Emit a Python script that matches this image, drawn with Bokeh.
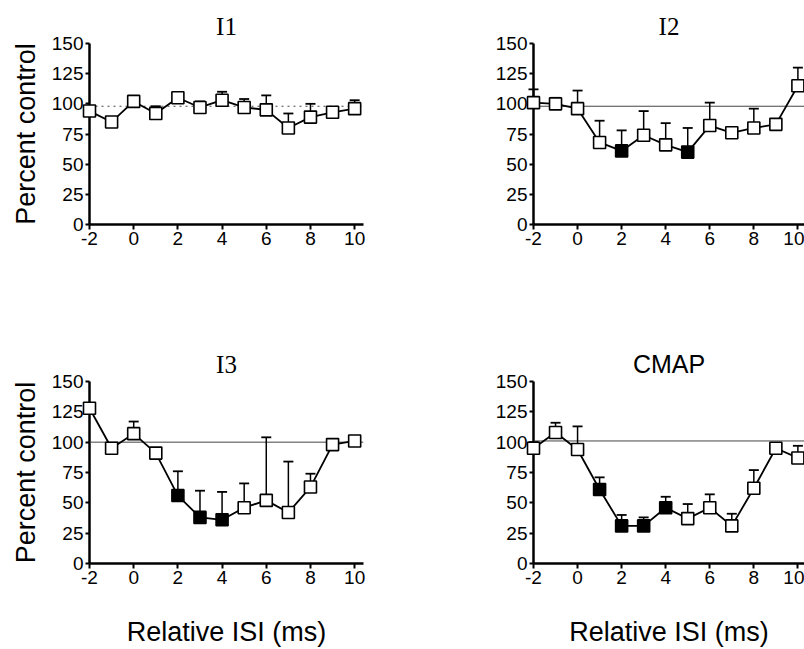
from bokeh.plotting import figure
from bokeh.layouts import column, row
from bokeh.models import Span, FixedTicker
from bokeh.embed import file_html
from bokeh.resources import INLINE

# ---------------- data ----------------
isi = [-2, -1, 0, 1, 2, 3, 4, 5, 6, 7, 8, 9, 10]
x_ticks = [-2, 0, 2, 4, 6, 8, 10]
y_ticks = [0, 25, 50, 75, 100, 125, 150]

i1_mean = [94, 85, 102, 92, 105, 97, 103, 97, 95, 80, 89, 93, 96]
i1_err = [0, 3, 0, 6, 0, 5, 7, 7, 12, 12, 11, 0, 7]
i1_sig = []

i2_mean = [101, 100, 96, 68, 61, 74, 66, 60, 82, 76, 80, 83, 115]
i2_err = [11, 5, 15, 18, 17, 20, 18, 20, 19, 0, 16, 0, 15]
i2_sig = [2, 5]

i3_mean = [128, 95, 107, 91, 56, 38, 36, 46, 52, 42, 63, 98, 101]
i3_err = [0, 0, 10, 0, 20, 22, 23, 20, 52, 42, 11, 4, 4]
i3_sig = [2, 3, 4]

cmap_mean = [95, 108, 94, 61, 31, 31, 46, 37, 46, 31, 62, 95, 87]
cmap_err = [5, 8, 19, 10, 9, 7, 9, 12, 11, 10, 15, 0, 10]
cmap_sig = [1, 2, 3, 4]

titles = ["I1", "I2", "I3", "CMAP"]
ref_levels = [98, 98, 100, 101]

SANS = "Liberation Sans"
SERIF = "Liberation Serif"


def make_panel(title, title_font, mean, err, sig, ref, ref_dash, x_end,
               width, height, mb_left, mb_right, mb_top, mb_bottom,
               ylabel, xlabel):
    p = figure(width=width, height=height, x_range=(-2, x_end), y_range=(0, 150),
               output_backend="svg", toolbar_location=None,
               min_border_left=mb_left, min_border_right=mb_right,
               min_border_top=mb_top, min_border_bottom=mb_bottom,
               background_fill_color="white", border_fill_color="white")
    p.outline_line_color = None
    p.grid.visible = False

    p.title.text = title
    p.title.align = "center"
    p.title.text_font = title_font
    p.title.text_font_size = "25px"
    p.title.text_font_style = "normal"
    p.title.text_color = "black"
    p.title.standoff = 8

    for ax in (p.xaxis[0], p.yaxis[0]):
        ax.axis_line_width = 2.5
        ax.axis_line_color = "black"
        ax.major_tick_line_width = 2
        ax.major_tick_line_color = "black"
        ax.major_tick_in = 0
        ax.minor_tick_line_color = None
        ax.major_label_text_font = SANS
        ax.major_label_text_font_size = "19px"
        ax.major_label_text_color = "black"
        ax.major_label_standoff = 2
        ax.axis_label_text_font = SANS
        ax.axis_label_text_font_size = "27px"
        ax.axis_label_text_font_style = "normal"
        ax.axis_label_text_color = "black"

    p.xaxis.ticker = FixedTicker(ticks=x_ticks)
    p.xaxis.major_label_overrides = {t: str(t) for t in x_ticks}
    p.yaxis.ticker = FixedTicker(ticks=y_ticks)
    p.xaxis.major_tick_out = 5
    p.yaxis.major_tick_out = 4
    p.yaxis.axis_label = ylabel
    p.yaxis.axis_label_standoff = 8
    p.xaxis.axis_label = xlabel
    p.xaxis.axis_label_standoff = 30

    span = Span(location=ref, dimension="width", line_color="#444444",
                line_width=1, line_dash=ref_dash)
    p.add_layout(span)

    # error bars (upper only)
    ex = [x for x, e in zip(isi, err) if e > 0]
    ey0 = [m for m, e in zip(mean, err) if e > 0]
    ey1 = [m + e for m, e in zip(mean, err) if e > 0]
    p.segment(x0=ex, y0=ey0, x1=ex, y1=ey1, line_color="black",
              line_width=1.5, level="overlay")
    p.scatter(ex, ey1, marker="dash", size=10, line_color="black",
              line_width=1.8, level="overlay")

    # connecting line
    p.line(isi, mean, line_color="black", line_width=1.8, level="overlay")

    ox = [x for x in isi if x not in sig]
    oy = [m for x, m in zip(isi, mean) if x not in sig]
    fx = [x for x in isi if x in sig]
    fy = [m for x, m in zip(isi, mean) if x in sig]
    p.scatter(ox, oy, marker="square", size=12, fill_color="white",
              line_color="black", line_width=1.6, level="overlay")
    if fx:
        p.scatter(fx, fy, marker="square", size=12, fill_color="black",
                  line_color="black", line_width=1.6, level="overlay")
    return p


W1, W2 = 448, 356
H1, H2 = 267, 382

p1 = make_panel(titles[0], SERIF, i1_mean, i1_err, i1_sig, ref_levels[0], "dotted", 10.4,
                W1, H1, 89, 85, 43, 43, "Percent control", None)
p2 = make_panel(titles[1], SERIF, i2_mean, i2_err, i2_sig, ref_levels[1], "solid", 10.3,
                W2, H1, 85, 0, 43, 43, None, None)
p3 = make_panel(titles[2], SERIF, i3_mean, i3_err, i3_sig, ref_levels[2], "solid", 10.4,
                W1, H2, 89, 85, 114, 84, "Percent control", "Relative ISI (ms)")
p4 = make_panel(titles[3], SANS, cmap_mean, cmap_err, cmap_sig, ref_levels[3], "solid", 10.3,
                W2, H2, 85, 0, 114, 84, None, "Relative ISI (ms)")

layout = column(row(p1, p2), row(p3, p4))
open("out.html", "w").write(file_html(layout, INLINE))
